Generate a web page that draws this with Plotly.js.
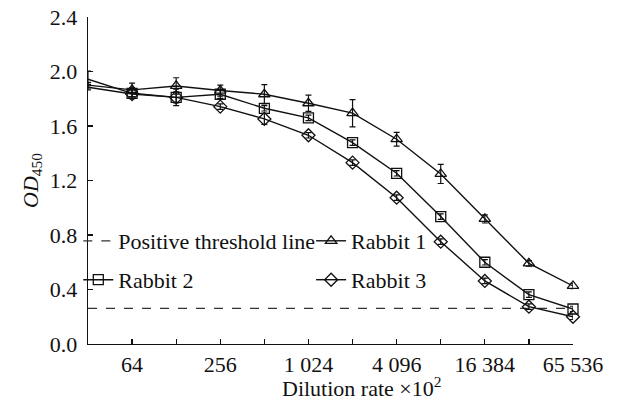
<!DOCTYPE html>
<html>
<head>
<meta charset="utf-8">
<script src="https://cdn.plot.ly/plotly-3.0.1.min.js"></script>
<style>html,body{margin:0;padding:0;background:#fff;}#chart{width:617px;height:401px;}</style>
</head>
<body>
<div id="chart"></div>
<script>
// Dilution rate (×10^2)
var dilutions = [32, 64, 128, 256, 512, 1024, 2048, 4096, 8192, 16384, 32768, 65536];
var tickLabels = ['', '64', '', '256', '', '1 024', '', '4 096', '', '16 384', '', '65 536'];

var rabbit1 = [1.90, 1.865, 1.894, 1.86, 1.833, 1.767, 1.694, 1.503, 1.248, 0.918, 0.592, 0.426];
var rabbit1Err = [0.02, 0.05, 0.06, 0.04, 0.07, 0.06, 0.10, 0.05, 0.07, 0.03, 0.02, 0.02];
var rabbit2 = [1.943, 1.84, 1.81, 1.833, 1.73, 1.66, 1.478, 1.253, 0.935, 0.60, 0.362, 0.257];
var rabbit2Err = [0.06, 0.04, 0.04, 0.03, 0.02, 0.02, 0.02, 0.02, 0.02, 0.02, 0.02, 0.02];
var rabbit3 = [1.885, 1.835, 1.81, 1.742, 1.652, 1.532, 1.331, 1.074, 0.751, 0.463, 0.274, 0.20];
var rabbit3Err = [0.02, 0.03, 0.06, 0.02, 0.04, 0.02, 0.02, 0.02, 0.02, 0.02, 0.02, 0.02];
var thresholdValue = 0.262;
var thresholdX = [dilutions[0], dilutions[dilutions.length - 1]];
var thresholdY = [thresholdValue, thresholdValue];

var font = {family: 'Liberation Serif, Times New Roman, serif', size: 22, color: '#111'};

function series(name, y, err, symbol, legendId) {
  return {
    x: dilutions, y: y, name: name, type: 'scatter', mode: 'lines+markers',
    legend: legendId,
    line: {color: '#111', width: 1.4},
    marker: {symbol: symbol, size: 10, color: '#111', line: {color: '#111', width: 1.3}},
    error_y: {type: 'data', array: err, visible: true, color: '#111', thickness: 1.2, width: 3},
    cliponaxis: false
  };
}

var traces = [
  {x: thresholdX, y: thresholdY, name: 'Positive threshold line', type: 'scatter', mode: 'lines',
   legend: 'legend', line: {color: '#333', width: 1.3, dash: 'dash'}},
  series('Rabbit 1', rabbit1, rabbit1Err, 'triangle-up-open', 'legend2'),
  series('Rabbit 2', rabbit2, rabbit2Err, 'square-open', 'legend3'),
  series('Rabbit 3', rabbit3, rabbit3Err, 'diamond-open', 'legend4')
];

function legendAt(x, y) {
  return {
    orientation: 'v', xanchor: 'left', yanchor: 'middle', x: x, y: y,
    bgcolor: 'rgba(0,0,0,0)', borderwidth: 0, font: font, itemwidth: 30
  };
}

var layout = {
  width: 617, height: 401,
  margin: {l: 88, r: 44, t: 17, b: 57},
  paper_bgcolor: '#fff', plot_bgcolor: '#fff',
  font: font,
  showlegend: true,
  legend: legendAt(-0.02, 0.315),
  legend2: legendAt(0.46, 0.315),
  legend3: legendAt(-0.02, 0.196),
  legend4: legendAt(0.46, 0.196),
  xaxis: {
    type: 'log',
    range: [Math.log10(dilutions[0]), Math.log10(dilutions[dilutions.length - 1])],
    tickmode: 'array', tickvals: dilutions, ticktext: tickLabels,
    ticks: 'inside', ticklen: 5, tickwidth: 1.2, tickcolor: '#111',
    showline: true, linecolor: '#111', linewidth: 1.4,
    showgrid: false, zeroline: false,
    tickfont: font
  },
  yaxis: {
    range: [0, 2.4], tickmode: 'array',
    tickvals: [0, 0.4, 0.8, 1.2, 1.6, 2.0, 2.4],
    ticktext: ['0.0', '0.4', '0.8', '1.2', '1.6', '2.0', '2.4'],
    ticks: 'inside', ticklen: 5, tickwidth: 1.2, tickcolor: '#111',
    showline: true, linecolor: '#111', linewidth: 1.4,
    showgrid: false, zeroline: false,
    tickfont: font, ticklabelstandoff: 5,
    title: {text: '<i>OD</i><sub>450</sub>', font: font, standoff: 5}
  },
  annotations: [{
    text: 'Dilution rate ×10<sup>2</sup>', xref: 'paper', yref: 'paper',
    x: 0.563, y: -0.082, xanchor: 'center', yanchor: 'top', showarrow: false, font: font
  }]
};

Plotly.newPlot('chart', traces, layout, {displayModeBar: false, staticPlot: true});
</script>
</body>
</html>
